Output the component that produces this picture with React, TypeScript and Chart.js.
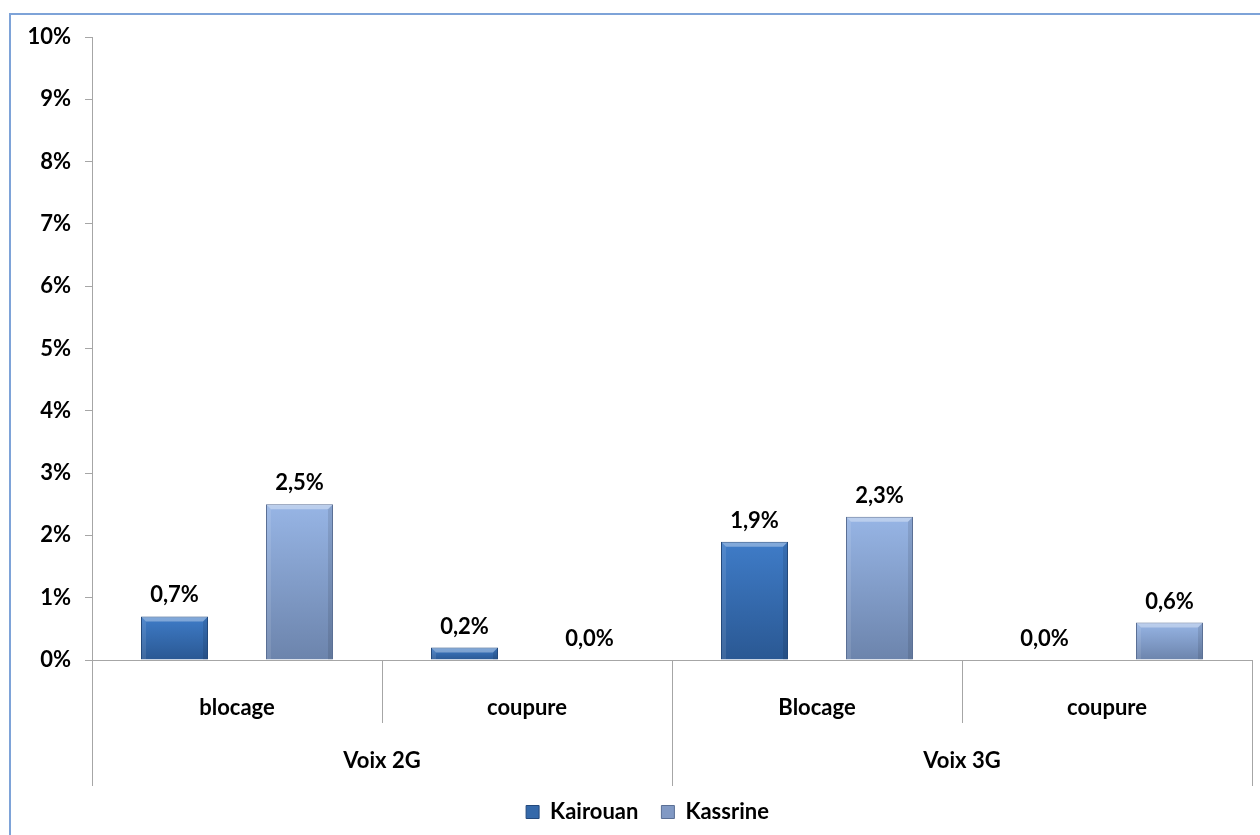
import { useEffect, useRef } from 'react';
import { Chart, registerables } from 'chart.js';

Chart.register(...registerables);

const categories = ['blocage', 'coupure', 'Blocage', 'coupure'];
const groups = ['Voix 2G', 'Voix 3G'];
const groupSpans = [2, 2];
const seriesNames = ['Kairouan', 'Kassrine'];
const kairouan = [0.7, 0.2, 1.9, 0.0];
const kassrine = [2.5, 0.0, 2.3, 0.6];
const yMin = 0;
const yMax = 10;
const yStep = 1;

const FONT = 'Lato, "Open Sans", sans-serif';
const FS = 22;

const topColors = ['#3f7cc8', '#97b5e5'];
const bottomColors = ['#2a5893', '#6c84ac'];
const strokeColors = ['#23497c', '#5a6f95'];
const legendFill = ['#3569aa', '#8199c4'];

const fmt = (v: number) => v.toFixed(1).replace('.', ',') + '%';

function barGradient(i: number) {
  return (ctx: any) => {
    const chart = ctx.chart;
    if (!chart.chartArea || ctx.type !== 'data') return legendFill[i];
    const y = chart.scales.y;
    const v = ctx.raw as number;
    const y0 = y.getPixelForValue(0);
    const y1 = y.getPixelForValue(v);
    if (Math.abs(y0 - y1) < 1) return legendFill[i];
    const g = chart.ctx.createLinearGradient(0, y1, 0, y0);
    g.addColorStop(0, topColors[i]);
    g.addColorStop(1, bottomColors[i]);
    return g;
  };
}

const extrasPlugin = {
  id: 'extras',
  afterLayout(chart: any) {
    const lg = chart.legend;
    if (lg) {
      lg.left += 16;
      lg.right += 16;
    }
  },
  afterDatasetsDraw(chart: any) {
    const ctx = chart.ctx;
    chart.data.datasets.forEach((ds: any, di: number) => {
      const meta = chart.getDatasetMeta(di);
      meta.data.forEach((el: any, idx: number) => {
        const v = ds.data[idx] as number;
        const left = el.x - el.width / 2;
        const right = el.x + el.width / 2;
        const top = Math.min(el.y, el.base);
        const bottom = Math.max(el.y, el.base);
        const h = bottom - top;
        if (h > 2) {
          const b = Math.min(5, h / 2);
          ctx.save();
          ctx.fillStyle = 'rgba(255,255,255,0.35)';
          ctx.beginPath();
          ctx.moveTo(left + 1, top + 1);
          ctx.lineTo(right - 1, top + 1);
          ctx.lineTo(right - b, top + b);
          ctx.lineTo(left + b, top + b);
          ctx.closePath();
          ctx.fill();
          ctx.fillStyle = 'rgba(255,255,255,0.10)';
          ctx.beginPath();
          ctx.moveTo(left + 1, top + 1);
          ctx.lineTo(left + b, top + b);
          ctx.lineTo(left + b, bottom);
          ctx.lineTo(left + 1, bottom);
          ctx.closePath();
          ctx.fill();
          ctx.fillStyle = 'rgba(0,0,0,0.10)';
          ctx.beginPath();
          ctx.moveTo(right - 1, top + 1);
          ctx.lineTo(right - b, top + b);
          ctx.lineTo(right - b, bottom);
          ctx.lineTo(right - 1, bottom);
          ctx.closePath();
          ctx.fill();
          ctx.restore();
        }
        ctx.save();
        ctx.font = `bold ${FS}px ${FONT}`;
        ctx.fillStyle = '#000';
        ctx.textAlign = 'center';
        ctx.textBaseline = 'middle';
        ctx.fillText(fmt(v), el.x, el.y - 21);
        ctx.restore();
      });
    });
  },
  afterDraw(chart: any) {
    const ctx = chart.ctx;
    const x = chart.scales.x;
    const axisY = chart.chartArea.bottom;
    const n = categories.length;
    const step = n > 1 ? x.getPixelForValue(1) - x.getPixelForValue(0) : x.width;
    const boundary = (i: number) => x.getPixelForValue(0) - step / 2 + i * step;
    const groupEdges = new Set<number>();
    let acc = 0;
    groupEdges.add(0);
    groupSpans.forEach((s) => {
      acc += s;
      groupEdges.add(acc);
    });
    ctx.save();
    ctx.strokeStyle = '#a6a6a6';
    ctx.lineWidth = 1;
    for (let i = 0; i <= n; i++) {
      const bx = Math.round(boundary(i)) + 0.5;
      const len = groupEdges.has(i) ? 126 : 63;
      ctx.beginPath();
      ctx.moveTo(bx, axisY);
      ctx.lineTo(bx, axisY + len);
      ctx.stroke();
    }
    ctx.font = `bold ${FS}px ${FONT}`;
    ctx.fillStyle = '#000';
    ctx.textAlign = 'center';
    ctx.textBaseline = 'middle';
    let start = 0;
    groups.forEach((g, gi) => {
      const end = start + groupSpans[gi];
      const cx = (boundary(start) + boundary(end)) / 2;
      ctx.fillText(g, cx, axisY + 101);
      start = end;
    });
    ctx.restore();
  },
};

export default function App() {
  const ref = useRef<HTMLCanvasElement | null>(null);

  useEffect(() => {
    if (!ref.current) return;
    const chart = new Chart(ref.current, {
      type: 'bar',
      data: {
        labels: categories,
        datasets: [
          {
            label: seriesNames[0],
            data: kairouan,
            backgroundColor: barGradient(0),
            borderColor: strokeColors[0],
            borderWidth: (c: any) => (c.raw ? 1 : 0),
            borderSkipped: 'bottom',
          },
          {
            label: seriesNames[1],
            data: kassrine,
            backgroundColor: barGradient(1),
            borderColor: strokeColors[1],
            borderWidth: (c: any) => (c.raw ? 1 : 0),
            borderSkipped: 'bottom',
          },
        ],
      },
      options: {
        animation: false,
        responsive: true,
        maintainAspectRatio: false,
        layout: { padding: { top: 22, right: 8, left: 0, bottom: 2 } },
        datasets: {
          bar: { categoryPercentage: 0.862, barPercentage: 0.536 },
        },
        scales: {
          x: {
            afterFit: (s: any) => {
              s.height = 118;
            },
            grid: { display: false },
            border: { display: true, color: '#a6a6a6', width: 1 },
            ticks: {
              padding: 27,
              color: '#000',
              font: { family: FONT, size: FS, weight: 'bold' },
              maxRotation: 0,
            },
          },
          y: {
            min: yMin,
            max: yMax,
            afterFit: (s: any) => {
              s.width = 81;
              s.paddingTop = 0;
              s.paddingBottom = 0;
            },
            grid: { drawOnChartArea: false, drawTicks: true, tickLength: 7, color: '#a6a6a6' },
            border: { display: true, color: '#a6a6a6', width: 1 },
            ticks: {
              stepSize: yStep,
              padding: 14,
              color: '#000',
              font: { family: FONT, size: FS, weight: 'bold' },
              callback: (v: any) => `${v}%`,
            },
          },
        },
        plugins: {
          tooltip: { enabled: false },
          legend: {
            position: 'bottom',
            labels: {
              color: '#000',
              font: { family: FONT, size: FS, weight: 'bold' },
              boxWidth: 13,
              boxHeight: 13,
              padding: 23,
              generateLabels: (c: any) =>
                c.data.datasets.map((ds: any, i: number) => ({
                  text: ds.label,
                  fillStyle: legendFill[i],
                  strokeStyle: strokeColors[i],
                  lineWidth: 1,
                  hidden: false,
                  datasetIndex: i,
                  fontColor: '#000',
                })),
            },
          },
        },
      },
      plugins: [extrasPlugin],
    } as any);
    return () => chart.destroy();
  }, []);

  return (
    <div
      style={{
        position: 'absolute',
        left: 9,
        top: 13,
        width: 1249,
        height: 820,
        borderLeft: '2px solid #7ea3d8',
        borderTop: '2px solid #7ea3d8',
        background: '#fff',
      }}
    >
      <div style={{ position: 'relative', width: 1249, height: 820 }}>
        <canvas ref={ref} />
      </div>
    </div>
  );
}
